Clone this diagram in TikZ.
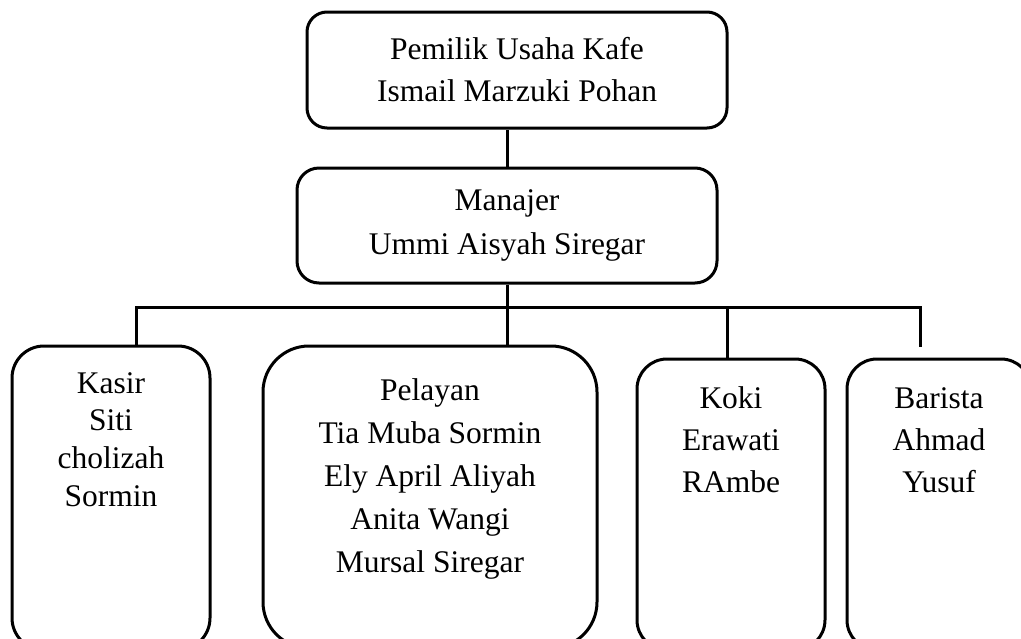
\documentclass[tikz,border=0pt]{standalone}
\usepackage{fontspec}
\setmainfont{Liberation Serif}
\begin{document}
\begin{tikzpicture}[x=1pt,y=-1pt,
  box/.style={draw, line width=3pt, inner sep=0pt, align=center},
  conn/.style={line width=3pt},
  txt/.style={inner sep=0pt, align=center, anchor=north}]
\useasboundingbox (0,0) rectangle (1021,638);
\clip (0,0) rectangle (1021,638);
\fill[white] (0,0) rectangle (1021,638);
\node[box, rounded corners=20pt, minimum width=420pt, minimum height=116pt, font=\fontsize{31.5}{42}\selectfont] (owner) at (517,70) {Pemilik Usaha Kafe\\Ismail Marzuki Pohan};
\node[box, rounded corners=22pt, minimum width=420pt, minimum height=115pt, font=\fontsize{31.5}{44}\selectfont] (mgr) at (507,225.5) {Manajer\\Ummi Aisyah Siregar};
\node[box, rounded corners=32pt, minimum width=198pt, minimum height=304pt] (kas) at (111,498) {};
\node[box, rounded corners=46pt, minimum width=334pt, minimum height=302pt] (pel) at (430,497) {};
\node[box, rounded corners=30pt, minimum width=188pt, minimum height=291pt] (koki) at (731,504.5) {};
\node[box, rounded corners=30pt, minimum width=184pt, minimum height=291pt] (bar) at (939,504.5) {};
\node[txt, font=\fontsize{31.5}{37.7}\selectfont] (kasT) at (111,372) {Kasir\\Siti\\cholizah\\Sormin};
\node[txt, font=\fontsize{31.5}{43}\selectfont] (pelT) at (430,378.5) {Pelayan\\Tia Muba Sormin\\Ely April Aliyah\\Anita Wangi\\Mursal Siregar};
\node[txt, font=\fontsize{31.5}{42}\selectfont] (kokiT) at (731,386.5) {Koki\\Erawati\\RAmbe};
\node[txt, font=\fontsize{31.5}{42}\selectfont] (barT) at (939,387) {Barista\\Ahmad\\Yusuf};
\coordinate (busL) at (136,307);
\coordinate (busK) at (727,307);
\coordinate (busR) at (920,307);
\coordinate (barEnd) at (920,347);
\draw[conn] (mgr.north) -- (mgr.north |- owner.south);
\draw[conn] (busL |- kas.north) -- (busL) -- (busR) -- (barEnd);
\draw[conn] (mgr.south) -- (mgr.south |- pel.north);
\draw[conn] (busK) -- (busK |- koki.north);
\end{tikzpicture}
\end{document}
